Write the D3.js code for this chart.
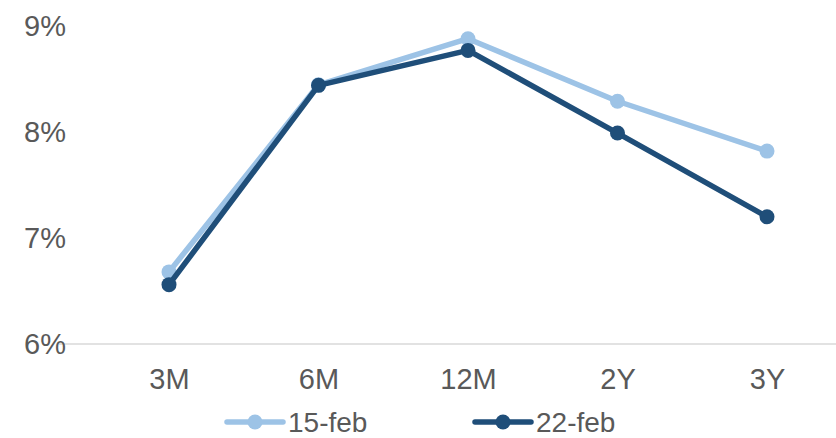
<!DOCTYPE html>
<html><head><meta charset="utf-8">
<script src="https://cdn.jsdelivr.net/npm/d3@7"></script>
<style>body{margin:0;background:#fff}svg{display:block}text{font-family:"Liberation Sans",Arial,sans-serif;fill:#595959}</style>
</head><body><svg id="c" width="836" height="438"></svg>
<script>
const categories = ["3M","6M","12M","2Y","3Y"];
const seriesNames = ["15-feb","22-feb"];
const feb15 = [6.68, 8.445, 8.88, 8.29, 7.82];
const feb22 = [6.56, 8.44, 8.77, 7.99, 7.20];
const yTicks = [6,7,8,9];
const colors = ["#9DC3E6","#1F4E79"];

const svg = d3.select("#c");
const x = d3.scalePoint().domain(categories).range([169,767]);
const y = d3.scaleLinear().domain([6,9]).range([344,26]);

// baseline
svg.append("line").attr("x1",59).attr("x2",836).attr("y1",y(6)).attr("y2",y(6))
  .attr("stroke","#d9d9d9").attr("stroke-width",1.5);

// y axis labels
const yAxis = d3.axisLeft(y).tickValues(yTicks).tickFormat(d=>d+"%").tickSize(0).tickPadding(0);
const gy = svg.append("g").attr("transform","translate(66,0)").call(yAxis);
gy.select(".domain").remove();
gy.selectAll("text").style("font-size","29px").attr("font-family",null).attr("fill","#595959");

// x axis labels
const xAxis = d3.axisBottom(x).tickSize(0).tickPadding(0);
const gx = svg.append("g").attr("transform","translate(0,368)").call(xAxis);
gx.select(".domain").remove();
gx.selectAll("text").style("font-size","29px").attr("font-family",null).attr("fill","#595959");

const data = [feb15, feb22];
const line = d3.line().x((d,i)=>x(categories[i])).y(d=>y(d));
data.forEach((vals,k)=>{
  svg.append("path").attr("d",line(vals)).attr("fill","none")
    .attr("stroke",colors[k]).attr("stroke-width",5.5).attr("stroke-linejoin","round");
  svg.selectAll(null).data(vals).enter().append("circle")
    .attr("cx",(d,i)=>x(categories[i])).attr("cy",d=>y(d)).attr("r",7.5).attr("fill",colors[k]);
});

// legend
const legX = [227, 475];
seriesNames.forEach((n,k)=>{
  const g = svg.append("g").attr("transform",`translate(${legX[k]},422)`);
  g.append("line").attr("x1",0).attr("x2",56).attr("y1",0).attr("y2",0)
    .attr("stroke",colors[k]).attr("stroke-width",5.5).attr("stroke-linecap","round");
  g.append("circle").attr("cx",28).attr("cy",0).attr("r",7.5).attr("fill",colors[k]);
  g.append("text").attr("x",61).attr("y",9.5).style("font-size","28px").text(n);
});
</script></body></html>
